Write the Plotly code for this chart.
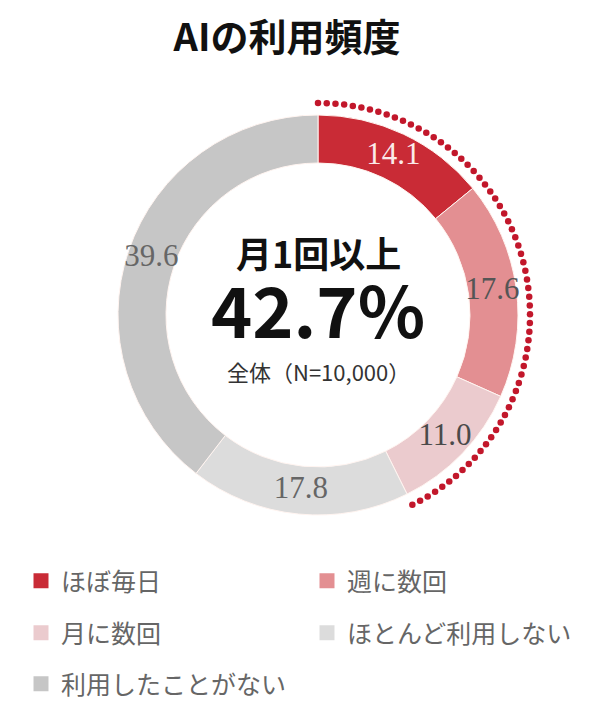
import numpy as np
import plotly.graph_objects as go

title = "AIの利用頻度"
categories = ["ほぼ毎日", "週に数回", "月に数回", "ほとんど利用しない", "利用したことがない"]
values = [14.1, 17.6, 11.0, 17.8, 39.6]
colors = ["#c92b36", "#e38f92", "#ebcbce", "#dcdcdc", "#c6c6c6"]
text_colors = ["#fbeaea", "#555555", "#4a4a4a", "#666666", "#666666"]
highlight_count = 3  # first three categories = 月1回以上
highlight_label = "月1回以上"
highlight_value = "42.7%"
sample_note = "全体（N=10,000）"

W, H = 600, 721
cx, cy = 318, 315
R_outer, R_inner = 200, 152   # ring radii (px)
R_dots = 212                  # polar radius r=1 (px)

total = sum(values)
cum = np.cumsum([0] + values[:-1])
slice_deg = np.array(values) / total * 360
mid_theta = cum / total * 360 + slice_deg / 2

fig = go.Figure()

# donut ring drawn as annular polar bars
fig.add_trace(go.Barpolar(
    r=np.full(len(values), (R_outer - R_inner) / R_dots),
    base=np.full(len(values), R_inner / R_dots),
    theta=mid_theta,
    width=slice_deg,
    marker=dict(color=colors, line=dict(color="#fff4f0", width=1)),
    customdata=values,
    hovertext=categories,
    hovertemplate="%{hovertext}: %{customdata}<extra></extra>",
    showlegend=False,
))

# value labels in the middle of each ring segment
fig.add_trace(go.Scatterpolar(
    r=np.full(len(values), (R_outer + R_inner) / 2 / R_dots),
    theta=mid_theta,
    mode="text",
    text=[f"{v:.1f}" for v in values],
    textposition="middle center",
    textfont=dict(family="Liberation Serif, DejaVu Serif, serif", size=31, color=text_colors),
    showlegend=False,
    hoverinfo="skip",
    cliponaxis=False,
))

# dotted arc covering the highlighted share
share = sum(values[:highlight_count]) / total
arc_deg = share * 360
n_dots = 66
theta = np.linspace(0, arc_deg, n_dots)
fig.add_trace(go.Scatterpolar(
    r=np.ones(n_dots),
    theta=theta,
    mode="markers",
    marker=dict(size=6.5, color="#c2172b"),
    showlegend=False,
    hoverinfo="skip",
    cliponaxis=False,
))

fig.update_layout(
    polar=dict(
        domain=dict(x=[(cx - R_dots) / W, (cx + R_dots) / W],
                    y=[(H - cy - R_dots) / H, (H - cy + R_dots) / H]),
        bgcolor="rgba(0,0,0,0)",
        bargap=0,
        radialaxis=dict(range=[0, 1], visible=False, showgrid=False),
        angularaxis=dict(rotation=90, direction="clockwise", visible=False, showgrid=False),
    )
)

# legend entries via dummy traces, one legend per entry (two-column grid)
legend_pos = [(40, 581), (326, 581), (40, 633), (326, 633), (40, 684)]  # symbol centre px
legend_names = ["legend"] + [f"legend{i}" for i in range(2, len(categories) + 1)]
for i, cat in enumerate(categories):
    fig.add_trace(go.Scatter(
        x=[None], y=[None], mode="markers",
        marker=dict(symbol="square", size=15, color=colors[i]),
        name=cat,
        legend=legend_names[i],
        showlegend=True,
    ))

legend_common = dict(
    orientation="v",
    xanchor="left",
    yanchor="middle",
    font=dict(family="Noto Sans CJK JP", size=25, color="#666666"),
    bgcolor="rgba(0,0,0,0)",
    itemclick=False,
    itemdoubleclick=False,
)
layout_legends = {}
for i, name in enumerate(legend_names):
    px, py = legend_pos[i]
    layout_legends[name] = dict(legend_common, x=(px - 19) / W, y=1 - py / H)
fig.update_layout(**layout_legends)

fig.update_layout(
    width=W,
    height=H,
    margin=dict(l=0, r=0, t=0, b=0),
    paper_bgcolor="white",
    plot_bgcolor="white",
    xaxis=dict(visible=False),
    yaxis=dict(visible=False),
    title=dict(
        text=f"<b>{title}</b>",
        x=287 / W, xanchor="center",
        y=1 - 38 / H, yanchor="middle",
        font=dict(family="Noto Sans CJK JP", size=38, color="#111111"),
    ),
    annotations=[
        dict(text=f"<b>{highlight_label}</b>", x=cx / W, y=1 - 252 / H, xref="paper", yref="paper",
             showarrow=False, font=dict(family="Noto Sans CJK JP", size=36, color="#111111")),
        dict(text=f"<b>{highlight_value}</b>", x=cx / W, y=1 - 307 / H, xref="paper", yref="paper",
             showarrow=False, font=dict(family="Noto Sans CJK JP", size=70, color="#111111")),
        dict(text=sample_note, x=cx / W, y=1 - 371 / H, xref="paper", yref="paper",
             showarrow=False, font=dict(family="Noto Sans CJK JP", size=22, color="#333333")),
    ],
)

fig.write_html("out.html", config={"displayModeBar": False},
               post_script="document.body.style.margin='0';")
